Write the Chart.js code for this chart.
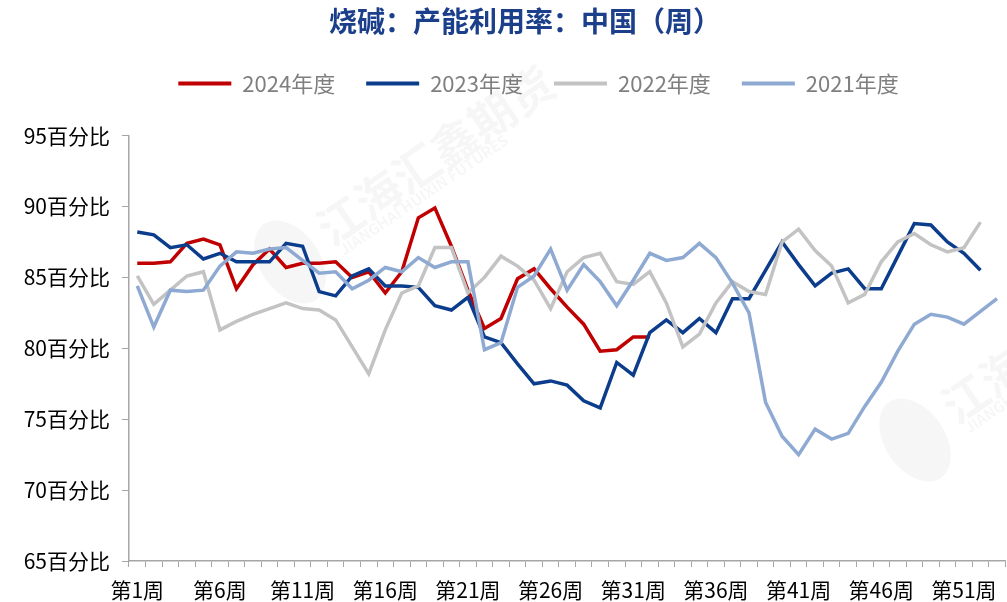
<!DOCTYPE html>
<html>
<head>
<meta charset="utf-8">
<script src="https://cdn.jsdelivr.net/npm/chart.js@4.4.1/dist/chart.umd.min.js"></script>
<style>
  html, body { margin: 0; padding: 0; background: #fff; }
</style>
</head>
<body>
<canvas id="chart" width="1007" height="602"></canvas>
<script>
const weeks = Array.from({ length: 53 }, (_, i) => `第${i + 1}周`);
const yTicks = [65, 70, 75, 80, 85, 90, 95];

const y2024 = [86.0, 86.0, 86.1, 87.4, 87.7, 87.3, 84.2, 85.9, 87.0, 85.7,
  86.0, 86.0, 86.1, 85.0, 85.4, 83.9, 85.4, 89.2, 89.9, 87.2,
  84.1, 81.4, 82.1, 84.9, 85.6, 84.2, 82.9, 81.7, 79.8, 79.9,
  80.8, 80.8];
const y2023 = [88.2, 88.0, 87.1, 87.3, 86.3, 86.7, 86.1, 86.1, 86.1, 87.4,
  87.2, 84.0, 83.7, 85.1, 85.6, 84.4, 84.4, 84.3, 83.0, 82.7,
  83.6, 80.8, 80.4, 78.9, 77.5, 77.7, 77.4, 76.3, 75.8, 79.0,
  78.1, 81.1, 82.0, 81.1, 82.1, 81.1, 83.5, 83.5, 85.5, 87.5,
  85.9, 84.4, 85.3, 85.6, 84.2, 84.2, 86.5, 88.8, 88.7, 87.5,
  86.7, 85.5];
const y2022 = [85.1, 83.1, 84.1, 85.1, 85.4, 81.3, 81.9, 82.4, 82.8, 83.2,
  82.8, 82.7, 82.0, 80.1, 78.2, 81.3, 83.9, 84.4, 87.1, 87.1,
  83.9, 85.0, 86.5, 85.8, 84.8, 82.8, 85.4, 86.4, 86.7, 84.7,
  84.5, 85.4, 83.2, 80.1, 81.0, 83.2, 84.7, 84.0, 83.8, 87.5,
  88.4, 86.9, 85.8, 83.2, 83.8, 86.1, 87.5, 88.1, 87.3, 86.8,
  87.1, 88.9];
const y2021 = [84.4, 81.5, 84.1, 84.0, 84.1, 85.8, 86.8, 86.7, 87.0, 87.1,
  86.2, 85.3, 85.4, 84.2, 84.8, 85.7, 85.4, 86.4, 85.7, 86.1,
  86.1, 79.9, 80.4, 84.3, 85.1, 87.0, 84.1, 85.9, 84.7, 83.0,
  84.8, 86.7, 86.2, 86.4, 87.4, 86.4, 84.6, 82.5, 76.2, 73.8,
  72.5, 74.3, 73.6, 74.0, 75.9, 77.6, 79.8, 81.7, 82.4, 82.2,
  81.7, 82.6, 83.5];

const CJK = '"Noto Sans CJK SC", "Noto Sans", sans-serif';
const axisColor = "#A6A6A6";

// faint watermark behind the lines
const watermark = {
  id: "watermark",
  beforeDatasetsDraw(chart) {
    const ctx = chart.ctx;
    [[290, 262], [915, 440]].forEach(([x, y]) => {
      ctx.save();
      ctx.translate(x, y);
      ctx.rotate(-0.6);
      ctx.fillStyle = "rgba(0,0,0,0.035)";
      ctx.beginPath();
      ctx.ellipse(0, 0, 30, 46, 0, 0, Math.PI * 2);
      ctx.fill();
      ctx.font = `bold 46px ${CJK}`;
      ctx.fillText("江海汇鑫期货", 42, -6);
      ctx.font = `bold 15px ${CJK}`;
      ctx.fillText("JIANGHAI HUIXIN FUTURES", 48, 20);
      ctx.restore();
    });
  }
};

// title and legend sit a little right of the canvas centre
const headerOffset = {
  id: "headerOffset",
  afterLayout(chart) {
    if (chart.titleBlock) chart.titleBlock.left = 43;
    if (chart.legend) chart.legend.left = 70;
  }
};

new Chart(document.getElementById("chart"), {
  type: "line",
  data: {
    labels: weeks,
    datasets: [
      { label: "2024年度", data: y2024, borderColor: "#C00000", backgroundColor: "#C00000", order: 3 },
      { label: "2023年度", data: y2023, borderColor: "#0B3D8C", backgroundColor: "#0B3D8C", order: 2 },
      { label: "2022年度", data: y2022, borderColor: "#C3C3C3", backgroundColor: "#C3C3C3", order: 1 },
      { label: "2021年度", data: y2021, borderColor: "#8EA9D2", backgroundColor: "#8EA9D2", order: 0 }
    ]
  },
  options: {
    responsive: false,
    animation: false,
    devicePixelRatio: 1,
    layout: { padding: 0 },
    elements: {
      line: { borderWidth: 3.5, tension: 0 },
      point: { radius: 0, borderWidth: 4 }
    },
    plugins: {
      title: {
        display: true,
        text: "烧碱：产能利用率：中国（周）",
        color: "#1B3F8B",
        font: { family: CJK, size: 28, weight: "bold" },
        padding: { top: 5, bottom: 3 }
      },
      // empty spacer between legend and plot
      subtitle: {
        display: true,
        text: " ",
        weight: 500,
        font: { size: 10 },
        padding: { top: 19, bottom: 0 }
      },
      legend: {
        labels: {
          usePointStyle: true,
          pointStyle: "line",
          pointStyleWidth: 53,
          padding: 31,
          color: "#7F7F7F",
          font: { family: CJK, size: 22 },
          sort: (a, b) => a.datasetIndex - b.datasetIndex
        }
      },
      tooltip: { enabled: false }
    },
    scales: {
      x: {
        offset: true,
        grid: { offset: true, drawOnChartArea: false, tickLength: 6, color: axisColor },
        border: { color: axisColor, width: 1.5 },
        ticks: {
          autoSkip: false,
          maxRotation: 0,
          padding: 10,
          color: "#000",
          font: { family: CJK, size: 21 },
          callback: (v, i) => (i % 5 === 0 ? weeks[i] : "")
        },
        afterFit: s => { s.height = 41; }
      },
      y: {
        min: yTicks[0],
        max: yTicks[yTicks.length - 1],
        afterBuildTicks: s => { s.ticks = yTicks.map(v => ({ value: v })); },
        grid: { drawOnChartArea: false, tickLength: 7, color: axisColor },
        border: { color: axisColor, width: 1.5 },
        ticks: {
          padding: 12,
          color: "#000",
          font: { family: CJK, size: 21 },
          callback: v => `${v}百分比`
        },
        afterFit: s => { s.width = 129; }
      }
    }
  },
  plugins: [watermark, headerOffset]
});
</script>
</body>
</html>
